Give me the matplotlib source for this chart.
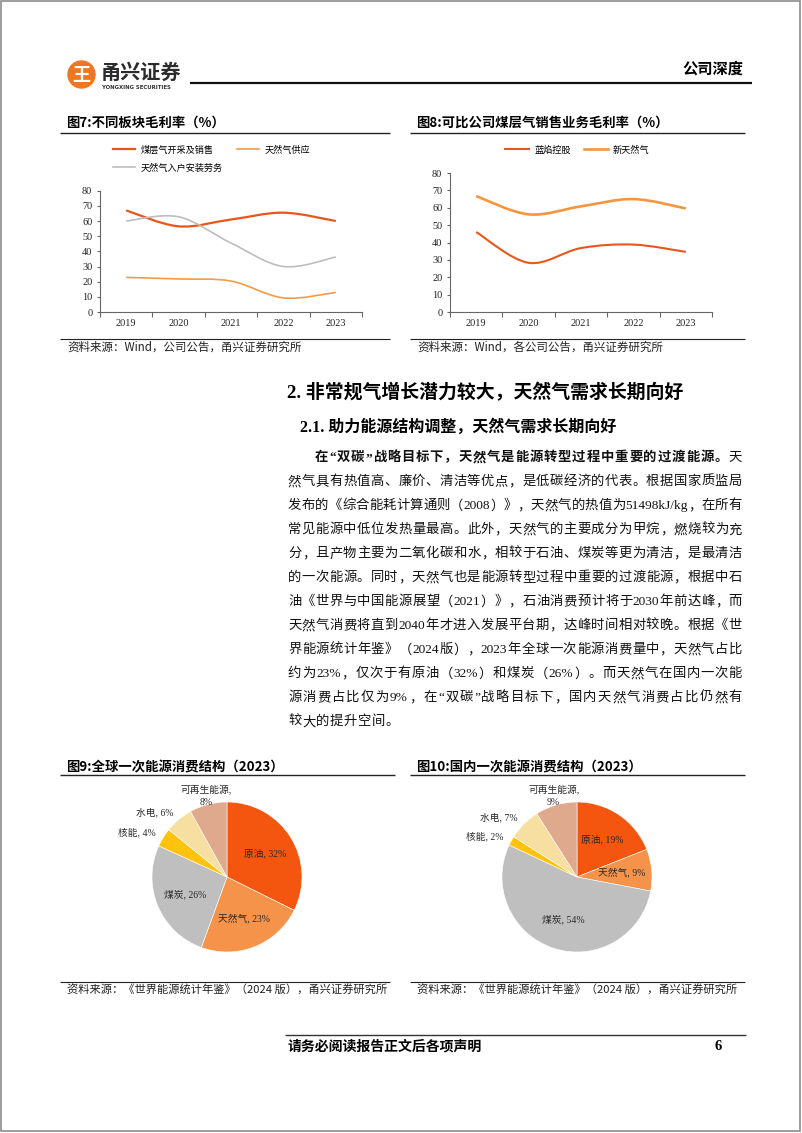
import re
import numpy as np
import matplotlib
matplotlib.use('Agg')
import matplotlib.pyplot as plt
from matplotlib.path import Path
from matplotlib.patches import PathPatch, Circle, Rectangle
from matplotlib.lines import Line2D

plt.rcParams['font.family'] = ['Noto Sans CJK SC', 'DejaVu Sans']
plt.rcParams['axes.unicode_minus'] = False

W, H = 802, 1133
CJK = ['Noto Sans CJK SC', 'DejaVu Sans']
SERIF = ['Liberation Serif', 'Noto Sans CJK SC']

# ---- data ----
years = ['2019', '2020', '2021', '2022', '2023']
cbm_sales = [67, 56.5, 61, 65.5, 60]       # 煤层气开采及销售
gas_supply = [22.8, 21.8, 20.4, 9.3, 12.9]  # 天然气供应
install = [60, 62.8, 45.5, 30, 36.3]        # 天然气入户安装劳务
lanyan = [46, 28.3, 36.8, 38.8, 34.6]       # 蓝焰控股
xintian = [66.7, 56.2, 60.8, 65, 59.6]      # 新天然气

energy = ['原油', '天然气', '煤炭', '核能', '水电', '可再生能源']
world = [32, 23, 26, 4, 6, 8]
china = [19, 9, 54, 2, 7, 9]
pie_colors = ['#F5560F', '#F5934A', '#BFBFBF', '#FFC20E', '#F6DFA0', '#DEA98C']
inside = ['原油', '天然气', '煤炭']

bold_lead = '在“双碳”战略目标下，天然气是能源转型过程中重要的过渡能源。'
body_lines = [
    bold_lead + '天',
    '然气具有热值高、廉价、清洁等优点，是低碳经济的代表。根据国家质监局',
    '发布的《综合能耗计算通则（2008）》，天然气的热值为 51498kJ/kg，在所有',
    '常见能源中低位发热量最高。此外，天然气的主要成分为甲烷，燃烧较为充',
    '分，且产物主要为二氧化碳和水，相较于石油、煤炭等更为清洁，是最清洁',
    '的一次能源。同时，天然气也是能源转型过程中重要的过渡能源，根据中石',
    '油《世界与中国能源展望（2021）》，石油消费预计将于 2030 年前达峰，而',
    '天然气消费将直到 2040 年才进入发展平台期，达峰时间相对较晚。根据《世',
    '界能源统计年鉴》（2024 版），2023 年全球一次能源消费量中，天然气占比',
    '约为 23%，仅次于有原油（32%）和煤炭（26%）。而天然气在国内一次能',
    '源消费占比仅为 9%，在“双碳”战略目标下，国内天然气消费占比仍然有',
    '较大的提升空间。',
]

fig = plt.figure(figsize=(W / 100, H / 100), dpi=100)
page = fig.add_axes([0, 0, 1, 1])
page.set_xlim(0, W)
page.set_ylim(H, 0)
page.axis('off')


def rect(l, t, r, b):
    return [l / W, 1 - b / H, (r - l) / W, (b - t) / H]


def hline(x0, x1, y, lw=0.8, color='#222222'):
    page.plot([x0, x1], [y, y], color=color, lw=lw, solid_capstyle='butt')


# page frame and header
page.add_patch(Rectangle((1, 1), W - 3, H - 3, fill=False, ec='#8c8c8c', lw=1.2))
page.add_patch(Circle((81.5, 74.5), 13.5, color='#EE7724'))
page.text(81.5, 75, '王', color='white', fontsize=13, fontweight='bold',
          ha='center', va='center', style='italic')
page.text(101, 72, '甬兴证券', fontsize=14.5, fontweight='bold', color='#2b2b2b',
          va='center', ha='left')
page.text(102, 87.5, 'YONGXING SECURITIES', fontsize=3.9, color='#333333',
          va='center', ha='left', family=['DejaVu Sans'], fontweight='bold')
hline(190, 752, 83, lw=1.6, color='#111111')
page.text(743, 69, '公司深度', fontsize=11, fontweight='bold', ha='right', va='center')


def smooth_path(xs, ys):
    pts = np.column_stack([xs, ys]).astype(float)
    ext = np.vstack([pts[0], pts, pts[-1]])
    verts = [pts[0]]
    codes = [Path.MOVETO]
    for i in range(len(pts) - 1):
        p0, p1, p2, p3 = ext[i], ext[i + 1], ext[i + 2], ext[i + 3]
        verts += [p1 + (p2 - p0) / 6, p2 - (p3 - p1) / 6, p2]
        codes += [Path.CURVE4] * 3
    return Path(verts, codes)


def line_chart(box, series):
    ax = fig.add_axes(rect(*box))
    x = np.arange(len(years))
    for vals, color, lw in series:
        ax.add_patch(PathPatch(smooth_path(x, vals), fill=False, ec=color, lw=lw,
                               capstyle='butt', joinstyle='round'))
    ax.set_xlim(-0.5, len(years) - 0.5)
    ax.set_ylim(0, 80)
    ax.set_yticks(range(0, 81, 10))
    ax.set_xticks(x)
    ax.set_xticklabels(years)
    ax.set_xticks(np.arange(-0.5, len(years), 1), minor=True)
    ax.tick_params(axis='x', which='major', length=0, pad=5)
    ax.tick_params(axis='x', which='minor', length=3.5, width=0.8, color='#666666')
    ax.tick_params(axis='y', length=2.5, width=0.8, color='#666666', pad=3)
    for lab in ax.get_xticklabels() + ax.get_yticklabels():
        lab.set_family(SERIF)
        lab.set_fontsize(7.4)
        lab.set_color('#222222')
    for s in ['top', 'right']:
        ax.spines[s].set_visible(False)
    for s in ['left', 'bottom']:
        ax.spines[s].set_color('#666666')
        ax.spines[s].set_linewidth(0.8)
    ax.set_facecolor('none')
    return ax


# ---- 图7 ----
page.text(66, 123, '图7:不同板块毛利率（%）', fontsize=9.6, fontweight='bold', va='center')
hline(60, 390, 132.5, lw=1.0)
ax7 = line_chart((100, 190.7, 362, 312), [
    (cbm_sales, '#E9561C', 1.6),
    (gas_supply, '#F59B45', 1.2),
    (install, '#BDBDBD', 1.2),
])
h7 = [Line2D([], [], color='#E9561C', lw=1.6), Line2D([], [], color='#F59B45', lw=1.2),
      Line2D([], [], color='#BDBDBD', lw=1.2)]
l7 = ['煤层气开采及销售', '天然气供应', '天然气入户安装劳务']
fig.legend([h7[0], h7[2], h7[1]], [l7[0], l7[2], l7[1]], ncol=2, frameon=False,
           loc='center left', bbox_to_anchor=(113 / W, 1 - 159 / H),
           borderpad=0, borderaxespad=0, handlelength=2.4, handletextpad=0.6,
           columnspacing=1.6, labelspacing=0.95, prop={'size': 6.6})
hline(60, 390, 339, lw=0.8)
page.text(67, 347, '资料来源：Wind，公司公告，甬兴证券研究所', fontsize=8.3,
          va='center', color='#222222')

# ---- 图8 ----
page.text(416, 123, '图8:可比公司煤层气销售业务毛利率（%）', fontsize=9.6,
          fontweight='bold', va='center')
hline(410, 745, 132.5, lw=1.0)
ax8 = line_chart((450, 173, 712, 312), [
    (lanyan, '#E9561C', 1.5),
    (xintian, '#F5963F', 1.9),
])
fig.legend([Line2D([], [], color='#E9561C', lw=1.5), Line2D([], [], color='#F5963F', lw=1.9)],
           ['蓝焰控股', '新天然气'], ncol=2, frameon=False,
           loc='center left', bbox_to_anchor=(505 / W, 1 - 150 / H),
           borderpad=0, borderaxespad=0, handlelength=2.6, handletextpad=0.6,
           columnspacing=1.4, prop={'size': 6.6})
hline(410, 745, 339, lw=0.8)
page.text(417, 347, '资料来源：Wind，各公司公告，甬兴证券研究所', fontsize=8.3,
          va='center', color='#222222')

# ---- body text ----
page.text(287, 393, '2. 非常规气增长潜力较大，天然气需求长期向好', fontsize=13.6,
          fontweight='bold', va='center', family=SERIF)
page.text(300, 428, '2.1. 助力能源结构调整，天然气需求长期向好', fontsize=11.5,
          fontweight='bold', va='center', family=SERIF)

renderer = fig.canvas.get_renderer()


def tokens_of(s):
    out = []
    for t in re.findall(r'[\x00-\x7f]+|.', s):
        t = t.strip()
        if t:
            out.append(t)
    return out


n_bold = len(tokens_of(bold_lead))
y0, dy = 458, 24.0
for i, line in enumerate(body_lines):
    toks = tokens_of(line)
    x0 = 315 if i == 0 else 288
    x1 = 742
    texts = []
    for j, tk in enumerate(toks):
        bold = (i == 0 and j < n_bold)
        texts.append(page.text(0, y0 + i * dy, tk, fontsize=9.6, family=SERIF,
                               fontweight='bold' if bold else 'normal',
                               va='center', ha='left', color='#111111'))
    widths = [t.get_window_extent(renderer).width for t in texts]
    if i == len(body_lines) - 1:
        gap = 0.6
    else:
        gap = (x1 - x0 - sum(widths)) / (len(texts) - 1)
    x = x0
    for t, w in zip(texts, widths):
        t.set_x(x)
        x += w + gap


# ---- pies ----
def pie_chart(cx, cy, r, values, title, tx):
    page.text(tx, 767, title, fontsize=9.6, fontweight='bold', va='center')
    hline(tx - 6, tx + 329, 775, lw=1.0)
    ax = fig.add_axes(rect(cx - r, cy - r, cx + r, cy + r))
    wedges, _ = ax.pie(values, colors=pie_colors, startangle=90, counterclock=False,
                       radius=1, wedgeprops={'edgecolor': 'white', 'linewidth': 0.4})
    ax.set_xlim(-1, 1)
    ax.set_ylim(-1, 1)
    ax.set_aspect('equal')
    ax.axis('off')
    for wdg, name, v in zip(wedges, energy, values):
        ang = np.deg2rad((wdg.theta1 + wdg.theta2) / 2)
        if name in inside:
            d = 0.6
            ha = 'center'
            lab = f'{name}, {v}%'
        else:
            d = 1.12
            lab = f'{name},\n{v}%' if name == '可再生能源' else f'{name}, {v}%'
            xx = np.cos(ang)
            ha = 'right' if xx < -0.4 else ('left' if xx > 0.4 else 'center')
        ax.text(d * np.cos(ang), d * np.sin(ang), lab, ha=ha, va='center',
                fontsize=7, family=SERIF, color='#2a2a2a', clip_on=False,
                linespacing=1.4)
    return ax


pie_chart(227, 877, 75, world, '图9:全球一次能源消费结构（2023）', 66)
pie_chart(577, 877, 75, china, '图10:国内一次能源消费结构（2023）', 416)
hline(60, 390, 982, lw=0.8)
hline(410, 745, 982, lw=0.8)
page.text(67, 990, '资料来源：《世界能源统计年鉴》（2024 版），甬兴证券研究所', fontsize=8.1,
          va='center', color='#222222')
page.text(417, 990, '资料来源：《世界能源统计年鉴》（2024 版），甬兴证券研究所', fontsize=8.1,
          va='center', color='#222222')

# ---- footer ----
hline(285, 746, 1034.5, lw=1.0, color='#333333')
page.text(288, 1046, '请务必阅读报告正文后各项声明', fontsize=10, fontweight='bold', va='center')
page.text(718, 1047, '6', fontsize=10.5, fontweight='bold', va='center', ha='center',
          family=['Liberation Serif'])

fig.savefig('out.png', dpi=100, facecolor='white')
